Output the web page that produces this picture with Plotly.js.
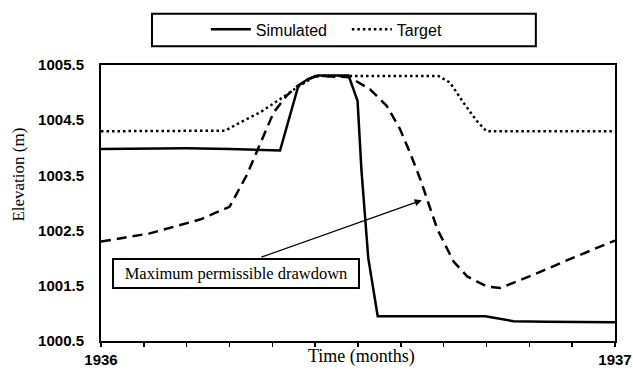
<!DOCTYPE html>
<html>
<head>
<meta charset="utf-8">
<script src="https://cdn.plot.ly/plotly-3.0.1.min.js"></script>
<style>html,body{margin:0;padding:0;background:#fff;}#chart{width:633px;height:371px;}</style>
</head>
<body>
<div id="chart"></div>
<script>
// Time in months from start of 1936
const simX = [0, 1, 2, 3, 4.18, 4.61, 4.84, 5.07, 5.78, 5.99, 6.08, 6.24, 6.46, 8.97, 9.3, 9.63, 10.4, 12];
const simY = [1003.98, 1003.99, 1003.99, 1003.98, 1003.95, 1005.13, 1005.25, 1005.31, 1005.31, 1004.85, 1003.6, 1002.0, 1000.95, 1000.95, 1000.9, 1000.86, 1000.85, 1000.84];

const targetX = [0, 1, 2, 2.9, 3.25, 3.71, 4.18, 4.55, 5.0, 6, 7, 7.88, 8.15, 8.46, 8.77, 9.0, 10, 11, 12];
const targetY = [1004.3, 1004.3, 1004.3, 1004.31, 1004.46, 1004.64, 1004.88, 1005.08, 1005.3, 1005.3, 1005.3, 1005.3, 1005.18, 1004.82, 1004.49, 1004.3, 1004.3, 1004.3, 1004.3];

const drawX = [0, 1.14, 2.31, 3.0, 3.4, 3.6, 3.75, 4.03, 4.33, 4.6, 5.0, 5.8, 6.28, 6.67, 6.98, 7.21, 7.45, 7.85, 8.23, 8.55, 9.0, 9.32, 10.1, 10.9, 12];
const drawY = [1002.3, 1002.45, 1002.7, 1002.93, 1003.5, 1003.86, 1004.16, 1004.64, 1004.94, 1005.13, 1005.3, 1005.28, 1005.06, 1004.76, 1004.34, 1003.92, 1003.44, 1002.53, 1001.94, 1001.67, 1001.49, 1001.46, 1001.7, 1001.97, 1002.32];

const monthTicks = [0,1,2,3,4,5,6,7,8,9,10,11,12];
const monthLabels = ['1936','','','','','','','','','','','','1937'];
const yTicks = [1000.5, 1001.5, 1002.5, 1003.5, 1004.5, 1005.5];

const serif = 'Liberation Serif, Times New Roman, serif';
const sans = 'Liberation Sans, Arial, sans-serif';

const traces = [
  {x: simX, y: simY, name: 'Simulated', mode: 'lines', type: 'scatter',
   line: {color: '#000', width: 2.5}},
  {x: targetX, y: targetY, name: 'Target', mode: 'lines', type: 'scatter',
   line: {color: '#000', width: 2.5, dash: '2.5px,3px'}},
  {x: drawX, y: drawY, name: 'Maximum permissible drawdown', mode: 'lines', type: 'scatter',
   line: {color: '#000', width: 2.5, dash: '10px,6px'}, showlegend: false}
];

const layout = {
  width: 633, height: 371,
  margin: {l: 101, r: 18, t: 62, b: 30},
  paper_bgcolor: '#fff', plot_bgcolor: '#fff',
  showlegend: true,
  legend: {orientation: 'h', x: 0.204, xanchor: 'left', y: 1.129, yanchor: 'middle',
           font: {family: sans, size: 16, color: '#000'}, itemwidth: 40,
           bgcolor: 'rgba(0,0,0,0)', borderwidth: 0, entrywidth: 86, entrywidthmode: 'pixels'},
  xaxis: {range: [0, 12], tickvals: monthTicks, ticktext: monthLabels,
          ticks: 'outside', ticklen: 4, tickwidth: 1.5, tickcolor: '#000',
          showline: true, linewidth: 2, linecolor: '#000', mirror: true,
          showgrid: false, zeroline: false, ticklabelstandoff: 0,
          tickfont: {family: sans, size: 15, color: '#000', weight: 'bold'}},
  yaxis: {range: [1000.5, 1005.5], tickvals: yTicks, tickformat: '.1f',
          ticks: '', showline: true, linewidth: 2, linecolor: '#000', mirror: true,
          showgrid: false, zeroline: false, ticklabelstandoff: 12,
          tickfont: {family: sans, size: 15, color: '#000', weight: 'bold'}},
  shapes: [
    {type: 'rect', xref: 'paper', yref: 'paper', x0: 0.0992, x1: 0.846, y0: 1.068, y1: 1.186,
     line: {color: '#000', width: 2}, fillcolor: 'rgba(0,0,0,0)'}
  ],
  annotations: [
    {text: 'Time (months)', xref: 'paper', yref: 'paper', x: 0.507, y: -0.057,
     xanchor: 'center', yanchor: 'middle', showarrow: false,
     font: {family: serif, size: 18, color: '#000'}},
    {text: 'Elevation (m)', xref: 'paper', yref: 'paper', x: -0.16, y: 0.602, textangle: -90,
     xanchor: 'center', yanchor: 'middle', showarrow: false,
     font: {family: serif, size: 17, color: '#000'}},
    {text: '', xref: 'x', yref: 'y', x: 7.49, y: 1003.05, axref: 'x', ayref: 'y', ax: 3.71, ay: 1002.01,
     showarrow: true, arrowhead: 2, arrowsize: 1.2, arrowwidth: 1.2, arrowcolor: '#000'},
    {text: 'Maximum permissible drawdown', xref: 'paper', yref: 'paper', x: 0.2626, y: 0.2455,
     xanchor: 'center', yanchor: 'middle', showarrow: false, width: 244, height: 27,
     bordercolor: '#000', borderwidth: 2, borderpad: 0, bgcolor: '#fff',
     font: {family: serif, size: 16.5, color: '#000'}}
  ]
};

Plotly.newPlot('chart', traces, layout, {displayModeBar: false, staticPlot: true});
</script>
</body>
</html>
